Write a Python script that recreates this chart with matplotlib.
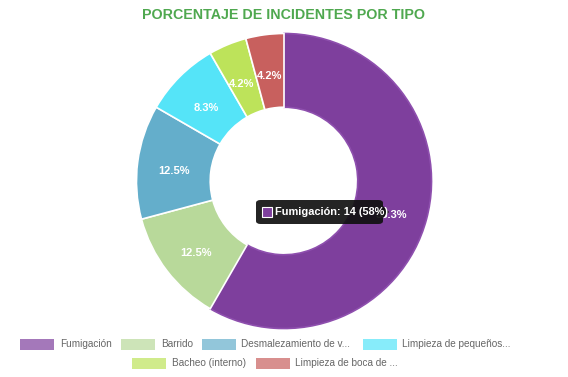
import numpy as np
import matplotlib.pyplot as plt
from matplotlib.patches import Rectangle, FancyBboxPatch

plt.rcParams['font.family'] = ['Liberation Sans', 'DejaVu Sans']

labels = ["Fumigación", "Barrido", "Desmalezamiento de v...", "Limpieza de pequeños...",
          "Bacheo (interno)", "Limpieza de boca de ..."]
counts = [14, 3, 3, 2, 1, 1]
colors = ["#7e3f9d", "#b8d99a", "#64aecb", "#55e4f8", "#bde35a", "#c8605e"]
title = "PORCENTAJE DE INCIDENTES POR TIPO"

fig = plt.figure(figsize=(5.68, 3.77), dpi=100)
W, H = 568, 377


def fx(px):
    return px / W


def fy(py):
    return 1 - py / H


# donut
ax = fig.add_axes([fx(135), fy(330), 298 / W, 298 / H])
wedges, _ = ax.pie(counts, colors=colors, startangle=90, counterclock=False,
                   radius=1.0, wedgeprops=dict(width=0.5, edgecolor="white", linewidth=1.2))
wedges[0].set_edgecolor("#8e4fae")
ax.set_xlim(-1.01, 1.01)
ax.set_ylim(-1.01, 1.01)
ax.set_aspect("equal")
ax.axis("off")

total = sum(counts)
start = 90.0
for c in counts:
    ang = start - 360.0 * c / total / 2
    start -= 360.0 * c / total
    r = 0.75
    ax.text(r * np.cos(np.radians(ang)), r * np.sin(np.radians(ang)) - 0.033,
            f"{100 * c / total:.1f}%", color="white", fontsize=8,
            fontweight="bold", ha="center", va="center")

fig.text(0.5, fy(15), title, ha="center", va="center", color="#4fa84f",
         fontsize=10.3, fontweight="bold")

# tooltip
tip = FancyBboxPatch((fx(256), fy(224)), fx(383) - fx(256), (224 - 200) / H,
                     boxstyle="round,pad=0,rounding_size=0.008",
                     transform=fig.transFigure, facecolor="#111111", edgecolor="none",
                     alpha=0.92, zorder=10)
fig.patches.append(tip)
fig.patches.append(plt.Polygon([[fx(383), fy(206)], [fx(389), fy(212)], [fx(383), fy(218)]],
                               closed=True, transform=fig.transFigure,
                               facecolor="#111111", edgecolor="none", zorder=10))
fig.patches.append(Rectangle((fx(262), fy(216.5)), 10 / W, 10 / H, transform=fig.transFigure,
                             facecolor=colors[0], edgecolor="white", linewidth=0.8, zorder=11))
fig.text(fx(275), fy(212), f"{labels[0]}: {counts[0]} ({100 * counts[0] / total:.0f}%)",
         color="white", fontsize=7.9, fontweight="bold", ha="left", va="center", zorder=12)

# legend
rows = [[(0, 20, 60), (1, 121, 161), (2, 202, 241), (3, 363, 402)],
        [(4, 132, 172), (5, 256, 295)]]
row_y = [344, 363]
for ry, row in zip(row_y, rows):
    for i, bx, tx in row:
        fig.patches.append(Rectangle((fx(bx), fy(ry + 5.5)), 34 / W, 11 / H,
                                     transform=fig.transFigure,
                                     facecolor=colors[i], edgecolor="none", alpha=0.7))
        fig.text(fx(tx), fy(ry), labels[i], color="#666666", fontsize=7.2,
                 ha="left", va="center")

fig.savefig("out.png", dpi=100)
